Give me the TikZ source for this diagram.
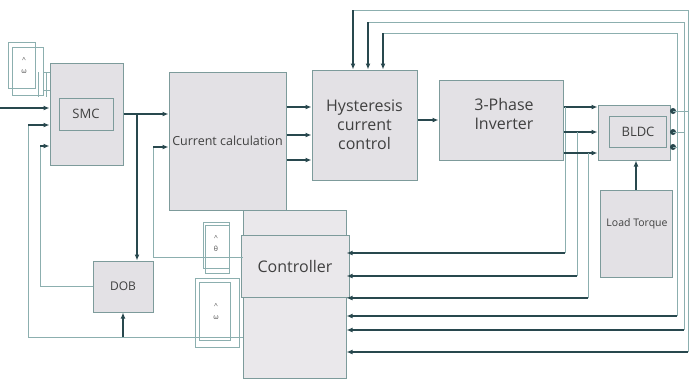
\documentclass[tikz,border=0pt]{standalone}
\usepackage{fontspec}
\setmainfont{Open Sans}
\usetikzlibrary{arrows.meta}
\definecolor{boxfill}{RGB}{227,225,229}
\definecolor{boxline}{RGB}{125,155,155}
\definecolor{wirelight}{RGB}{140,175,175}
\definecolor{wiredark}{RGB}{40,72,78}

\begin{document}
\begin{tikzpicture}[x=1pt, y=-1pt,
  blk/.style={draw=boxline, fill=boxfill, line width=1pt, inner sep=1pt, align=center, text=black!75},
  sig/.style={wiredark, line width=1.5pt, -{Latex[length=6pt,width=5pt]}},
  fb/.style={wirelight, line width=0.9pt},
  tag/.style={draw=wirelight, line width=0.7pt},
  tagtxt/.style={font=\fontsize{7}{11}\selectfont, align=center, text=black!70}]
  \useasboundingbox (0,0) rectangle (691,381);

  % Blocks
  \node[blk, minimum width=73pt, minimum height=102pt] (smc) at (86.5,114) {};
  \node[blk, minimum width=54pt, minimum height=32pt, font=\fontsize{13}{15}\selectfont] (smcin) at (86,114) {SMC};
  \node[blk, minimum width=117pt, minimum height=138pt, font=\fontsize{12.5}{14}\selectfont] (cur) at (227.5,141) {Current calculation};
  \node[blk, minimum width=105pt, minimum height=110pt, font=\fontsize{16}{19}\selectfont] (hys) at (364.5,125) {Hysteresis\\current\\control};
  \node[blk, minimum width=124pt, minimum height=80pt] (inv) at (501,120) {};
  \node[font=\fontsize{16}{19}\selectfont, align=center, text=black!75] (invtxt) at (504,114) {3-Phase\\Inverter};
  \node[blk, minimum width=72pt, minimum height=55pt] (bldc) at (634,132.5) {};
  \node[blk, minimum width=57pt, minimum height=31pt, font=\fontsize{13}{15}\selectfont] (bldcin) at (638,131.5) {BLDC};
  \node[blk, minimum width=72pt, minimum height=87pt] (load) at (636,233.5) {};
  \node[font=\fontsize{10.5}{12}\selectfont, text=black!75] (loadtxt) at (637,224) {Load Torque};
  \node[blk, minimum width=60pt, minimum height=51pt, font=\fontsize{12}{14}\selectfont] (dob) at (123,286.5) {DOB};
  \node[blk, fill=boxfill!75, minimum width=103pt, minimum height=168pt] (ctrl) at (294.5,294) {};
  \node[blk, fill=boxfill!75, minimum width=108pt, minimum height=62pt, font=\fontsize{16}{19}\selectfont] (ctrlin) at (295,266) {Controller};

  % Signal tags
  \draw[tag] (8,42) rectangle (35,88);
  \draw[tag] (12,47) rectangle (43,95);
  \node[tagtxt] (wref) at (24,66) {\textasciicircum\\ω};
  \draw[tag] (203,222) rectangle (229,268);
  \draw[tag] (205,225) rectangle (229,273);
  \node[tagtxt] (thhat) at (216,244) {\textasciicircum\\θ};
  \draw[tag] (195,278) rectangle (239,347);
  \draw[tag] (199,282) rectangle (230,340);
  \node[tagtxt] (whhat) at (216,312) {\textasciicircum\\ω};

  % Inputs to SMC
  \coordinate (in) at (0,108);
  \draw[sig] (in) -- (in -| smc.west);
  \draw[fb] (43,72) -- (50,72);
  \draw[fb] (43,90) -- (50,90);
  \foreach \x in {38,46} \draw[fb] (\x,72) -- (\x,97);

  % SMC to current calculation, branch to DOB
  \draw[sig] (smc.east) -- (smc.east -| cur.west);
  \coordinate (dobtap) at (137,114);
  \draw[sig] (dobtap) -- (dobtap |- dob.north);

  % DOB back to SMC
  \coordinate (dobk) at (40,146);
  \draw[fb] (dob.west) -| (dobk);
  \draw[sig] (dobk) -- (dobk -| smc.west);

  % Speed estimate
  \coordinate (wl) at (28,337);
  \coordinate (wk) at (28,125);
  \draw[fb] (ctrl.west |- wl) -- (wl) -- (wk);
  \draw[sig] (wk) -- (wk -| smc.west);
  \draw[sig] (dob.south |- wl) -- (dob.south);

  % Position estimate
  \coordinate (tl) at (153,257);
  \coordinate (tk) at (153,147);
  \draw[fb] (ctrl.west |- tl) -- (tl) -- (tk);
  \draw[sig] (tk) -- (tk -| cur.west);

  % Reference currents
  \foreach \y in {107,135,160}
    \draw[sig] (cur.east |- 0,\y) -- (hys.west |- 0,\y);
  \draw[sig] (hys.east |- inv.west) -- (inv.west);

  % Inverter to BLDC and controller
  \foreach \y/\x/\yc in {107/565/253, 132/577/276, 153/588/298} {
    \draw[sig] (inv.east |- 0,\y) -- (bldc.west |- 0,\y);
    \draw[fb] (\x,\y) -- (\x,\yc);
    \draw[sig] (\x,\yc) -- (ctrl.east |- 0,\yc);
  }
  \draw[sig] (load.north) -- (load.north |- bldc.south);

  % BLDC outputs back to hysteresis and controller
  \foreach \y/\x/\yt/\xt/\yc in {111/688/10/353/352, 132/684/22/368/330, 147/677/33/383/316} {
    \fill[wiredark] (673,\y) circle (3pt);
    \draw[fb] (673,\y) -- (\x,\y);
    \draw[fb] (\xt,\yt) -- (\x,\yt) -- (\x,\yc);
    \draw[sig] (\xt,\yt) -- (hys.north -| \xt,0);
    \draw[sig] (\x,\yc) -- (ctrl.east |- 0,\yc);
  }
\end{tikzpicture}
\end{document}
